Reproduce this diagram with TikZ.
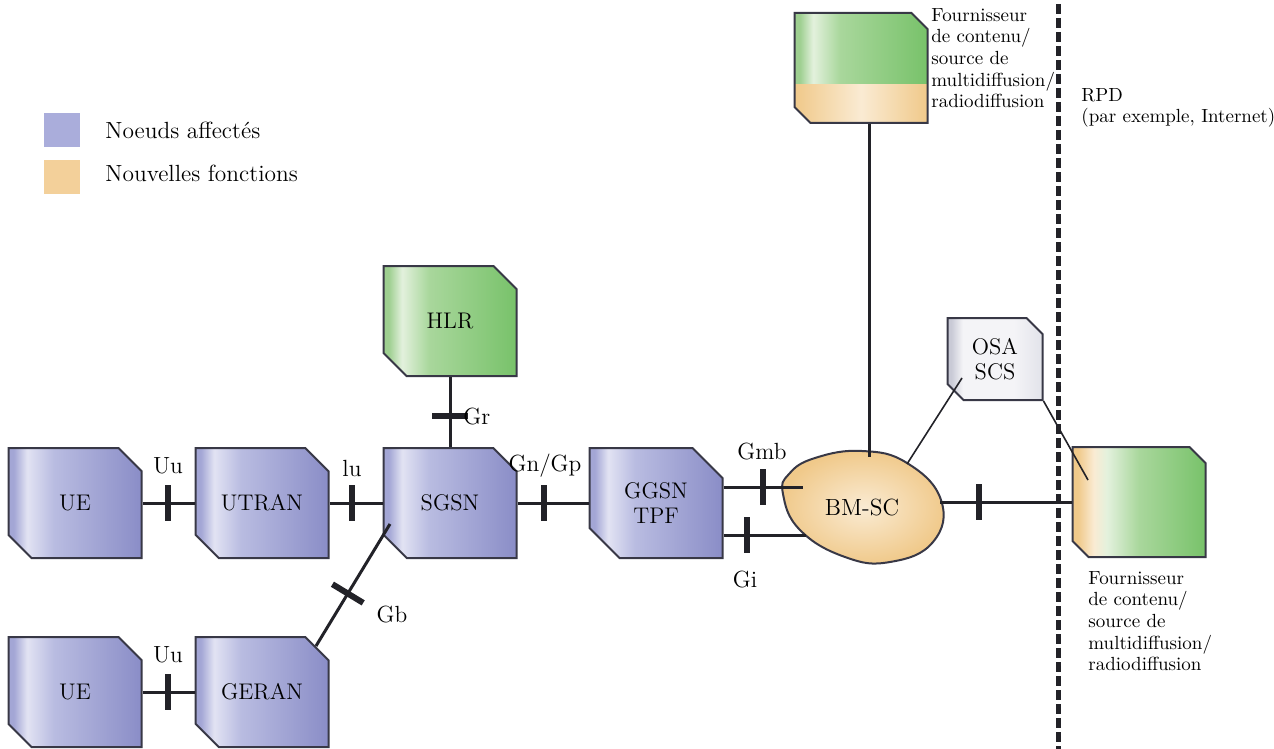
\documentclass[tikz,border=0pt]{standalone}
\usepackage{fontspec}
\usetikzlibrary{shapes.misc,calc,positioning}

\definecolor{lineC}{HTML}{222228}
\definecolor{edgeC}{HTML}{383846}
\definecolor{affA}{HTML}{A3A6D5}
\definecolor{affL}{HTML}{E2E3F3}
\definecolor{affM}{HTML}{B9BCE1}
\definecolor{affD}{HTML}{8A8DC7}
\definecolor{grnA}{HTML}{9ECF90}
\definecolor{grnL}{HTML}{E3F1DD}
\definecolor{grnM}{HTML}{A9D79C}
\definecolor{grnD}{HTML}{78C26A}
\definecolor{newA}{HTML}{F0C98A}
\definecolor{newL}{HTML}{FAEBD3}
\definecolor{newD}{HTML}{D9A34E}
\definecolor{osaA}{HTML}{C9CAD6}
\definecolor{osaL}{HTML}{F4F4F7}
\definecolor{osaD}{HTML}{E2E3EA}
\definecolor{legAff}{HTML}{AAADDB}
\definecolor{legNew}{HTML}{F3D09A}

\pgfdeclarehorizontalshading{affshade}{100bp}{color(0bp)=(affA); color(27bp)=(affA); color(32bp)=(affL); color(42bp)=(affM); color(75bp)=(affD); color(100bp)=(affD)}
\pgfdeclarehorizontalshading{grnshade}{100bp}{color(0bp)=(grnA); color(27bp)=(grnA); color(32bp)=(grnL); color(42bp)=(grnM); color(75bp)=(grnD); color(100bp)=(grnD)}
\pgfdeclarehorizontalshading{provshade}{100bp}{color(0bp)=(newA); color(27bp)=(newA); color(33bp)=(newL); color(38bp)=(grnL); color(50bp)=(grnM); color(75bp)=(grnD); color(100bp)=(grnD)}
\pgfdeclarehorizontalshading{osashade}{100bp}{color(0bp)=(osaA); color(27bp)=(osaA); color(33bp)=(osaL); color(60bp)=(osaL); color(75bp)=(osaD); color(100bp)=(osaD)}

\tikzset{
  netbox/.style={chamfered rectangle, chamfered rectangle corners={north east,south west},
    chamfered rectangle xsep=7.5pt, chamfered rectangle ysep=7.5pt, draw=edgeC, line width=1pt,
    minimum width=66.5pt, minimum height=55pt, inner sep=0pt, align=center,
    font=\fontsize{11.3}{12.8}\selectfont},
  affected/.style={netbox, shade, shading=affshade},
  server/.style={netbox, shade, shading=grnshade},
  link/.style={draw=lineC, line width=1.5pt},
  thinlink/.style={draw=lineC, line width=.8pt},
  tick/.style={fill=lineC, inner sep=0pt, minimum width=3pt, minimum height=18pt, sloped},
  lbl/.style={font=\fontsize{11.7}{13}\selectfont, inner sep=1pt},
  note/.style={font=\fontsize{9.5}{10.8}\selectfont, align=left, inner sep=0pt, anchor=north west}
}

\begin{document}
\begin{tikzpicture}[x=0.5pt,y=-0.5pt]
\useasboundingbox (0,0) rectangle (1274,749);

% legend
\fill[legAff] (44,113) rectangle (80,147);
\fill[legNew] (44,160) rectangle (80,194);
\node[lbl, anchor=west] (legA) at (103,130) {Noeuds affectés};
\node[lbl, anchor=west] (legN) at (103,173) {Nouvelles fonctions};

% RPD boundary
\draw[lineC, line width=2.5pt, dash pattern=on 5pt off 2pt] (1058,4) -- (1058,749);
\node[note] (rpd) at (1081,88) {RPD\\(par exemple, Internet)};

% nodes
\node[affected] (ue1) at (75,503) {UE};
\node[affected] (utran) at (262,503) {UTRAN};
\node[affected] (sgsn) at (450,503) {SGSN};
\node[affected] (ggsn) at (656,503) {GGSN\\TPF};
\node[server] (hlr) at (450,321) {HLR};
\node[affected] (ue2) at (75,692) {UE};
\node[affected] (geran) at (262,692) {GERAN};
\node[server, path picture={\shade[left color=newA, right color=newA, middle color=newL]
  (path picture bounding box.south west) rectangle ([yshift=19pt]path picture bounding box.south east);}]
  (prov1) at (861,68) {\phantom{X}};
\node[netbox, shade, shading=provshade] (prov2) at (1139,502) {\phantom{X}};
\node[netbox, shade, shading=osashade, minimum width=47.5pt, minimum height=41pt,
  chamfered rectangle xsep=4pt, chamfered rectangle ysep=4pt] (osa) at (995,359) {OSA\\SCS};
\node[note] (prov1txt) at (931,8) {Fournisseur\\de contenu/\\source de\\multidiffusion/\\radiodiffusion};
\node[note] (prov2txt) at (1088,571) {Fournisseur\\de contenu/\\source de\\multidiffusion/\\radiodiffusion};

% BM-SC
\shade[draw=edgeC, line width=1pt, inner color=newL, outer color=newA]
  plot[smooth cycle, tension=.75] coordinates {(783,494) (800,530) (845,557) (890,562) (933,542)
  (941,500) (907,463) (862,451) (815,458) (789,474)};
\node[lbl] (bmsc) at (862,508) {BM-SC};
\coordinate (bmtop) at (869,457);
\coordinate (bmosa) at (907,464);
\coordinate (bmgmb) at (803,487);
\coordinate (bmgi) at (806,535);
\coordinate (bmright) at (940,502);

% links
\path[link] (ue1.east) -- node[tick, pos=.49] (t1) {} (utran.west);
\path[link] (utran.east) -- node[tick, pos=.42] (t2) {} (sgsn.west);
\path[link] (sgsn.east) -- node[tick, pos=.37] (t3) {} (ggsn.west);
\path[link] (hlr.south) -- node[tick, pos=.56] (t4) {} (sgsn.north);
\path[link] ([xshift=27pt,yshift=23pt]geran.center) -- node[tick, pos=.43] (t5) {} ([xshift=-30pt,yshift=-10.5pt]sgsn.center);
\path[link] (ue2.east) -- node[tick, pos=.49] (t6) {} (geran.west);
\path[link] (ggsn.east |- bmgmb) -- node[tick, pos=.5] (t7) {} (bmgmb);
\path[link] (ggsn.east |- bmgi) -- node[tick, pos=.28] (t8) {} (bmgi);
\path[link] (bmright) -- node[tick, pos=.3] (t9) {} (prov2.west |- bmright);
\path[link] (bmtop |- prov1.south) -- (bmtop);
\path[thinlink] (bmosa) -- (962,378);
\path[thinlink] (osa.south east) -- (1088,480);

% interface labels
\node[lbl] (uu1) at (168,466) {Uu};
\node[lbl] (iu) at (352,468) {lu};
\node[lbl] (gngp) at (545,466) {Gn/Gp};
\node[lbl, anchor=west] (gr) at (461,417) {Gr};
\node[lbl] (gb) at (392,615) {Gb};
\node[lbl] (uu2) at (168,655) {Uu};
\node[lbl] (gmb) at (762,452) {Gmb};
\node[lbl] (gi) at (745,580) {Gi};
\end{tikzpicture}
\end{document}
